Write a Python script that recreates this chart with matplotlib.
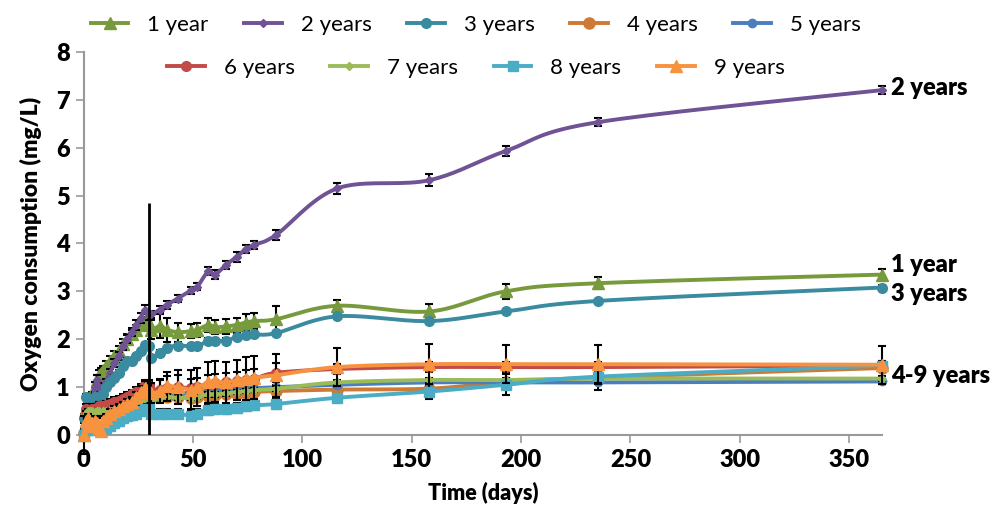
import matplotlib
matplotlib.use("Agg")
import matplotlib.pyplot as plt
import numpy as np

plt.rcParams['font.family'] = ['Lato', 'DejaVu Sans']

# sampling days
days = [0, 1, 2, 3, 4, 5, 6, 7, 8, 9, 10, 12, 14, 16, 18, 20, 22, 24, 26, 28,
        30, 31, 35, 38, 43, 49, 52, 57, 60, 65, 70, 74, 78, 88, 116, 158, 193, 235, 365]

labels = ["1 year", "2 years", "3 years", "4 years", "5 years",
          "6 years", "7 years", "8 years", "9 years"]

y1 = [0.0, 0.3, 0.45, 0.6, 0.8, 1.0, 1.15, 1.25, 1.3, 1.35, 1.45, 1.55, 1.65, 1.75, 1.9, 2.0, 2.1, 2.2, 2.3, 2.37,
      2.35, 2.2, 2.28, 2.2, 2.15, 2.17, 2.2, 2.3, 2.25, 2.27, 2.3, 2.35, 2.38, 2.42, 2.7, 2.58, 3.0, 3.17, 3.35]
y2 = [0.35, 0.5, 0.55, 0.6, 0.75, 1.0, 1.15, 1.0, 0.9, 1.0, 1.1, 1.3, 1.5, 1.65, 1.85, 2.0, 2.15, 2.3, 2.45, 2.62,
      2.5, 2.52, 2.62, 2.72, 2.85, 3.02, 3.1, 3.42, 3.35, 3.55, 3.72, 3.88, 3.97, 4.18, 5.15, 5.32, 5.93, 6.53, 7.2]
y3 = [0.35, 0.8, 0.78, 0.72, 0.7, 0.8, 0.78, 0.72, 0.68, 0.85, 1.0, 1.1, 1.2, 1.3, 1.45, 1.55, 1.55, 1.65, 1.75, 1.88,
      1.85, 1.6, 1.72, 1.82, 1.87, 1.85, 1.85, 1.97, 1.97, 1.97, 2.05, 2.08, 2.1, 2.13, 2.48, 2.38, 2.58, 2.8, 3.08]
y4 = [0.05, 0.45, 0.45, 0.45, 0.45, 0.45, 0.47, 0.5, 0.5, 0.52, 0.55, 0.57, 0.6, 0.62, 0.65, 0.68, 0.7, 0.72, 0.75, 0.8,
      0.8, 0.78, 0.8, 0.8, 0.8, 0.78, 0.8, 0.82, 0.83, 0.85, 0.86, 0.88, 0.9, 0.92, 0.95, 0.97, 1.1, 1.2, 1.4]
y5 = [0.05, 0.4, 0.4, 0.42, 0.42, 0.45, 0.45, 0.45, 0.45, 0.5, 0.5, 0.55, 0.6, 0.62, 0.65, 0.68, 0.72, 0.75, 0.8, 0.85,
      0.85, 0.8, 0.82, 0.85, 0.87, 0.88, 0.9, 0.92, 0.93, 0.95, 0.96, 0.97, 0.98, 1.0, 1.05, 1.1, 1.1, 1.1, 1.12]
y6 = [0.05, 0.55, 0.5, 0.5, 0.55, 0.55, 0.55, 0.6, 0.6, 0.6, 0.62, 0.65, 0.7, 0.72, 0.75, 0.8, 0.85, 0.9, 0.97, 1.05,
      1.02, 0.92, 0.95, 0.98, 1.0, 0.98, 1.0, 1.05, 1.08, 1.1, 1.12, 1.15, 1.17, 1.3, 1.38, 1.42, 1.42, 1.42, 1.45]
y7 = [0.05, 0.45, 0.5, 0.5, 0.5, 0.48, 0.5, 0.5, 0.45, 0.5, 0.5, 0.52, 0.55, 0.58, 0.6, 0.62, 0.65, 0.7, 0.72, 0.78,
      0.75, 0.72, 0.78, 0.8, 0.78, 0.78, 0.8, 0.85, 0.85, 0.87, 0.9, 0.92, 0.94, 0.97, 1.1, 1.15, 1.15, 1.18, 1.18]
y8 = [0.0, 0.1, 0.15, 0.1, 0.12, 0.12, 0.12, 0.12, 0.1, 0.12, 0.15, 0.2, 0.25, 0.3, 0.35, 0.4, 0.42, 0.45, 0.5, 0.55,
      0.55, 0.45, 0.45, 0.45, 0.45, 0.4, 0.45, 0.52, 0.55, 0.55, 0.57, 0.6, 0.62, 0.65, 0.78, 0.91, 1.05, 1.22, 1.45]
y9 = [0.0, 0.3, 0.35, 0.2, 0.25, 0.3, 0.25, 0.15, 0.08, 0.3, 0.35, 0.45, 0.5, 0.55, 0.6, 0.65, 0.7, 0.8, 0.9, 0.98,
      0.95, 0.88, 0.92, 1.02, 1.0, 0.95, 1.0, 1.1, 1.12, 1.1, 1.15, 1.18, 1.2, 1.25, 1.42, 1.48, 1.48, 1.48, 1.47]

# standard deviations
e1 = [0.1, 0.1, 0.1, 0.1, 0.1, 0.1, 0.1, 0.1, 0.1, 0.1, 0.1, 0.1, 0.1, 0.1, 0.1, 0.1, 0.1, 0.1, 0.1, 0.1,
      0.15, 0.2, 0.25, 0.25, 0.2, 0.15, 0.15, 0.15, 0.15, 0.15, 0.15, 0.17, 0.17, 0.27, 0.13, 0.15, 0.15, 0.13, 0.12]
e2 = [0.1, 0.08, 0.08, 0.08, 0.1, 0.1, 0.1, 0.08, 0.08, 0.08, 0.08, 0.08, 0.08, 0.08, 0.08, 0.08, 0.08, 0.1, 0.1, 0.1,
      0.1, 0.08, 0.08, 0.08, 0.08, 0.08, 0.08, 0.08, 0.1, 0.08, 0.1, 0.08, 0.08, 0.1, 0.12, 0.12, 0.1, 0.08, 0.08]
e3 = [0.05, 0.05, 0.05, 0.05, 0.05, 0.05, 0.05, 0.05, 0.05, 0.05, 0.05, 0.05, 0.05, 0.05, 0.05, 0.05, 0.05, 0.05, 0.05, 0.05,
      0.05, 0.05, 0.05, 0.05, 0.05, 0.05, 0.05, 0.05, 0.05, 0.05, 0.05, 0.05, 0.05, 0.05, 0.05, 0.05, 0.05, 0.05, 0.05]
e4 = [0.05, 0.05, 0.05, 0.05, 0.05, 0.05, 0.05, 0.05, 0.05, 0.05, 0.05, 0.05, 0.05, 0.05, 0.05, 0.05, 0.05, 0.05, 0.05, 0.05,
      0.05, 0.05, 0.05, 0.05, 0.05, 0.05, 0.05, 0.05, 0.05, 0.05, 0.05, 0.05, 0.05, 0.05, 0.05, 0.05, 0.05, 0.05, 0.05]
e5 = [0.05, 0.05, 0.05, 0.05, 0.05, 0.05, 0.05, 0.05, 0.05, 0.05, 0.05, 0.05, 0.05, 0.05, 0.05, 0.05, 0.05, 0.05, 0.05, 0.05,
      0.05, 0.05, 0.05, 0.05, 0.05, 0.05, 0.05, 0.05, 0.05, 0.05, 0.05, 0.05, 0.05, 0.05, 0.05, 0.05, 0.05, 0.15, 0.05]
e6 = [0.1, 0.1, 0.1, 0.1, 0.1, 0.1, 0.1, 0.1, 0.1, 0.1, 0.1, 0.1, 0.1, 0.1, 0.1, 0.1, 0.1, 0.1, 0.1, 0.1,
      0.1, 0.15, 0.2, 0.25, 0.25, 0.2, 0.2, 0.2, 0.2, 0.2, 0.2, 0.2, 0.2, 0.2, 0.1, 0.1, 0.1, 0.1, 0.1]
e7 = [0.05, 0.05, 0.05, 0.05, 0.05, 0.05, 0.05, 0.05, 0.05, 0.05, 0.05, 0.05, 0.05, 0.05, 0.05, 0.05, 0.05, 0.05, 0.05, 0.05,
      0.05, 0.05, 0.05, 0.05, 0.05, 0.05, 0.05, 0.05, 0.05, 0.05, 0.05, 0.05, 0.05, 0.05, 0.05, 0.05, 0.05, 0.05, 0.05]
e8 = [0.1, 0.1, 0.1, 0.1, 0.1, 0.1, 0.1, 0.1, 0.1, 0.1, 0.1, 0.1, 0.1, 0.1, 0.1, 0.1, 0.1, 0.1, 0.1, 0.1,
      0.1, 0.1, 0.1, 0.1, 0.1, 0.1, 0.1, 0.1, 0.1, 0.1, 0.1, 0.1, 0.1, 0.1, 0.05, 0.15, 0.22, 0.15, 0.1]
e9 = [0.4, 0.1, 0.1, 0.1, 0.1, 0.1, 0.1, 0.1, 0.1, 0.1, 0.1, 0.1, 0.1, 0.1, 0.1, 0.1, 0.1, 0.1, 0.12, 0.15,
      0.2, 0.2, 0.25, 0.3, 0.35, 0.4, 0.4, 0.42, 0.42, 0.42, 0.42, 0.45, 0.45, 0.45, 0.4, 0.42, 0.4, 0.4, 0.4]

values = [y1, y2, y3, y4, y5, y6, y7, y8, y9]
errors = [e1, e2, e3, e4, e5, e6, e7, e8, e9]
colors = ['#779A3C', '#6F5394', '#3A8AA0', '#CC7A34', '#4A7EBE',
          '#C24B48', '#9BBB59', '#4BACC6', '#F7923F']
markers = ['^', 'D', 'o', 'o', 'o', 'o', 'D', 's', '^']
msizes = [8, 4.5, 7, 8, 6, 7, 4.5, 7, 8]


def smooth(x, y, n=20):
    # bezier curve through all points, like a spreadsheet "smoothed line"
    x = np.asarray(x, float)
    y = np.asarray(y, float)
    px = np.concatenate([[x[0]], x, [x[-1]]])
    py = np.concatenate([[y[0]], y, [y[-1]]])
    xs, ys = [], []
    t = np.linspace(0, 1, n)
    for i in range(1, len(px) - 2):
        x0, x1, x2, x3 = px[i - 1:i + 3]
        y0, y1_, y2_, y3 = py[i - 1:i + 3]
        c1x, c1y = x1 + (x2 - x0) / 6, y1_ + (y2_ - y0) / 6
        c2x, c2y = x2 - (x3 - x1) / 6, y2_ - (y3 - y1_) / 6
        bx = (1 - t) ** 3 * x1 + 3 * (1 - t) ** 2 * t * c1x + 3 * (1 - t) * t ** 2 * c2x + t ** 3 * x2
        by = (1 - t) ** 3 * y1_ + 3 * (1 - t) ** 2 * t * c1y + 3 * (1 - t) * t ** 2 * c2y + t ** 3 * y2_
        xs.append(bx)
        ys.append(by)
    return np.concatenate(xs), np.concatenate(ys)


fig = plt.figure(figsize=(10.08, 5.18), dpi=100)
ax = fig.add_axes([0.083, 0.16, 0.792, 0.74])

handles = []
for i in range(len(values)):
    z = 3 + i
    ax.errorbar(days, values[i], yerr=errors[i], fmt='none', ecolor='black',
                elinewidth=1.5, capsize=3, capthick=1.5, zorder=z, clip_on=False)
    sx, sy = smooth(days, values[i])
    ax.plot(sx, sy, color=colors[i], lw=2.8, zorder=z + 0.1, solid_capstyle='round', clip_on=False)
    ax.plot(days, values[i], linestyle='none', marker=markers[i], ms=msizes[i],
            color=colors[i], zorder=z + 0.2, clip_on=False)
    h, = ax.plot([], [], color=colors[i], lw=2.8, marker=markers[i], ms=msizes[i])
    handles.append(h)

ax.vlines(30, 0, 4.85, color='black', lw=2, zorder=20)

ax.set_xlim(0, 365)
ax.set_ylim(0, 8)
ax.set_xticks(np.arange(0, 351, 50))
ax.set_yticks(np.arange(0, 9, 1))
for s in ['top', 'right']:
    ax.spines[s].set_visible(False)
for s in ['left', 'bottom']:
    ax.spines[s].set_color('#999999')
    ax.spines[s].set_linewidth(1.5)
ax.tick_params(direction='out', length=6, width=1.2, color='#999999', labelsize=17, pad=4)
for lab in ax.get_xticklabels() + ax.get_yticklabels():
    lab.set_fontweight('heavy')

ax.set_xlabel("Time (days)", fontsize=15.5, fontweight='heavy', labelpad=8)
ax.set_ylabel("Oxygen consumption (mg/L)", fontsize=16.5, fontweight='heavy', labelpad=10)

end_labels = ["2 years", "1 year", "3 years", "4-9 years"]
end_y = [7.24, 3.55, 2.94, 1.23]
for txt, yy in zip(end_labels, end_y):
    ax.text(369, yy, txt, fontsize=17, fontweight='heavy', va='center', ha='left', clip_on=False)

leg_kw = dict(loc='center', frameon=False, fontsize=16, handlelength=1.7,
              handletextpad=0.85, columnspacing=1.6, borderaxespad=0)
fig.legend(handles[:5], labels[:5], ncol=5, bbox_to_anchor=(0.472, 0.952), **leg_kw)
fig.legend(handles[5:], labels[5:], ncol=4, bbox_to_anchor=(0.472, 0.869), **leg_kw)

fig.savefig("out.png", dpi=100)
